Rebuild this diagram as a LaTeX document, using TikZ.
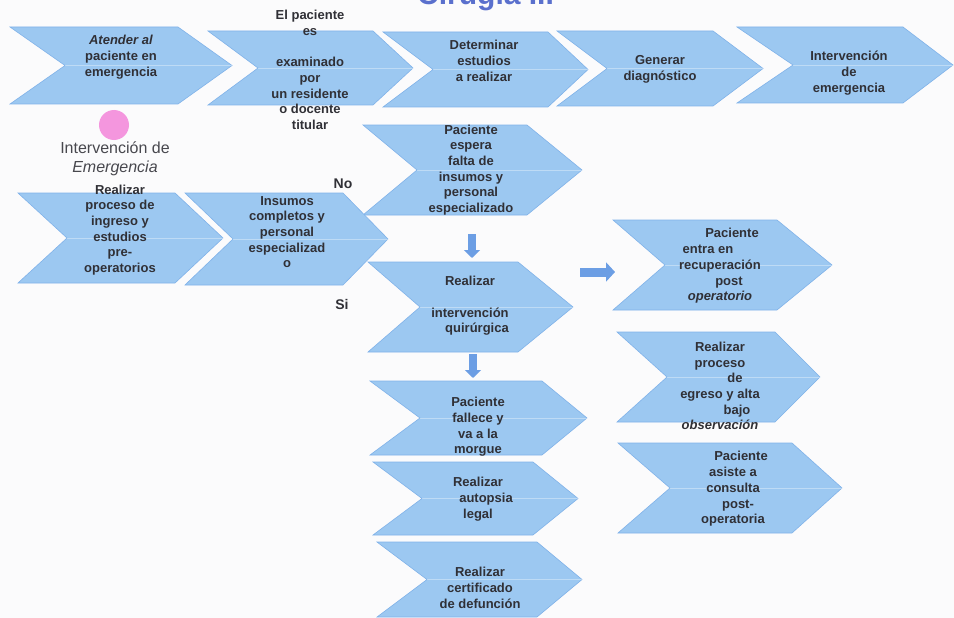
\documentclass[tikz,border=0pt]{standalone}
\usepackage{fontspec}
\setmainfont{Liberation Sans}
\usetikzlibrary{arrows.meta}

\definecolor{chevblue}{RGB}{156,200,241}
\definecolor{chevedge}{RGB}{128,178,233}
\definecolor{txt}{RGB}{48,48,54}
\definecolor{sidetxt}{RGB}{72,72,78}
\definecolor{arrowblue}{RGB}{108,158,228}
\definecolor{dotpink}{RGB}{244,150,222}
\definecolor{titleblue}{RGB}{90,112,205}
\definecolor{paper}{RGB}{251,251,252}

% chevron: left x, top y, right x, bottom y, notch depth, tip depth
\newcommand\chevshape[6]{%
  \path[chev] (#1,#2) -- ({#3-#6},#2) -- (#3,{(#2+#4)/2}) -- ({#3-#6},#4)
    -- (#1,#4) -- ({#1+#5},{(#2+#4)/2}) -- cycle;
  \draw[gloss] ({#1+#5},{(#2+#4)/2}) -- (#3,{(#2+#4)/2});
}
% horizontal nudge of a single centred line
\newcommand\nudge[1]{\hbox to #1pt{\hss}}

\begin{document}
\begin{tikzpicture}[x=1pt,y=-1pt,
  chev/.style={fill=chevblue, draw=chevedge, line width=0.6pt},
  gloss/.style={draw=white, draw opacity=0.35, line width=0.8pt},
  lbl/.style={align=center, inner sep=0pt, text=txt,
    font=\bfseries\fontsize{13}{15.7}\selectfont},
  side/.style={align=center, inner sep=0pt, text=sidetxt,
    font=\fontsize{16}{19}\selectfont},
  yesno/.style={inner sep=0pt, text=txt, font=\bfseries\fontsize{14}{17}\selectfont},
  dot/.style={circle, fill=dotpink, minimum size=30pt, inner sep=0pt},
  titlestyle/.style={inner sep=0pt, text=titleblue, font=\bfseries\fontsize{30}{34}\selectfont},
  blockarrow/.style={draw=arrowblue, line width=8pt, -{Triangle[width=16pt,length=8pt]}},
  widearrow/.style={draw=arrowblue, line width=9pt, -{Triangle[width=19pt,length=9pt]}}
]
\fill[paper] (0,0) rectangle (954,618);
\useasboundingbox (0,0) rectangle (954,618);
\clip (0,0) rectangle (954,618);

% heading, cut by the top edge
\node[titlestyle, anchor=base west] (title) at (417,5) {Cirugía III};

% top row
\chevshape{10}{27}{232}{104}{55}{54}
\chevshape{208}{31}{413}{105}{50}{40}
\chevshape{383}{32}{588}{107}{50}{40}
\chevshape{557}{31}{763}{106}{50}{50}
\chevshape{737}{27}{953}{103}{56}{50}

% second row and central column
\chevshape{363}{125}{582}{215}{54}{55}
\chevshape{18}{193}{223}{283}{49}{48}
\chevshape{185}{193}{388}{285}{48}{45}
\chevshape{368}{262}{573}{352}{52}{55}
\chevshape{370}{381}{587}{455}{50}{45}
\chevshape{373}{462}{578}{535}{49}{45}
\chevshape{377}{542}{582}{617}{50}{45}

% right column
\chevshape{613}{220}{832}{310}{52}{55}
\chevshape{617}{332}{820}{422}{50}{45}
\chevshape{618}{443}{842}{533}{52}{50}

% texts of the steps
\node[lbl] (atender) at (121,57) {\textit{Atender al}\\paciente en\\emergencia};
\node[lbl] (examinado) at (310,70) {El paciente\\es\\[15.7pt]examinado\\por\\un residente\\o docente\\titular};
\node[lbl] (estudios) at (484,61) {Determinar\\estudios\\a realizar};
\node[lbl] (diagnostico) at (660,69) {Generar\\diagnóstico};
\node[lbl] (interv) at (849,73) {Intervención\\de\\emergencia};
\node[lbl] (espera) at (471,170) {Paciente\\espera\\falta de\\insumos y\\personal\\especializado};
\node[lbl] (ingreso) at (120,230) {Realizar\\proceso de\\ingreso y\\estudios\\pre-\\operatorios};
\node[lbl] (insumos) at (287,232) {Insumos\\completos y\\personal\\especializad\\o};
\node[lbl] (quirurgica) at (470,306) {Realizar\\[15.7pt]intervención\\\nudge{14}quirúrgica};
\node[lbl] (fallece) at (478,427) {Paciente\\fallece y\\va a la\\morgue};
\node[lbl] (autopsia) at (478,499) {Realizar\\\nudge{16}autopsia\\legal};
\node[lbl] (certificado) at (480,588) {Realizar\\certificado\\de defunción};
\node[lbl] (recuperacion) at (720,266) {\nudge{24}Paciente\\entra en\nudge{24}\\recuperación\\\nudge{18}post\\\textit{operatorio}};
\node[lbl] (egreso) at (720,386) {Realizar\\proceso\\\nudge{30}de\\egreso y alta\\\nudge{34}bajo\\\textit{observación}};
\node[lbl] (consulta) at (733,489) {\nudge{16}Paciente\\asiste a\\consulta\\\nudge{10}post-\\operatoria};

% side labels
\node[dot] (mark) at (114,125) {};
\node[side] (emergencia) at (115,159) {Intervención de\\\textit{Emergencia}};
\node[yesno] (no) at (343,184) {No};
\node[yesno] (si) at (342,304) {Si};

% block arrows
\coordinate (down1a) at (472,234);
\coordinate (down1b) at (472,258);
\coordinate (down2a) at (473,354);
\coordinate (down2b) at (473,378);
\coordinate (righta) at (580,272);
\coordinate (rightb) at (615,272);
\draw[blockarrow] (down1a) -- (down1b);
\draw[blockarrow] (down2a) -- (down2b);
\draw[widearrow] (righta) -- (rightb);
\end{tikzpicture}
\end{document}
